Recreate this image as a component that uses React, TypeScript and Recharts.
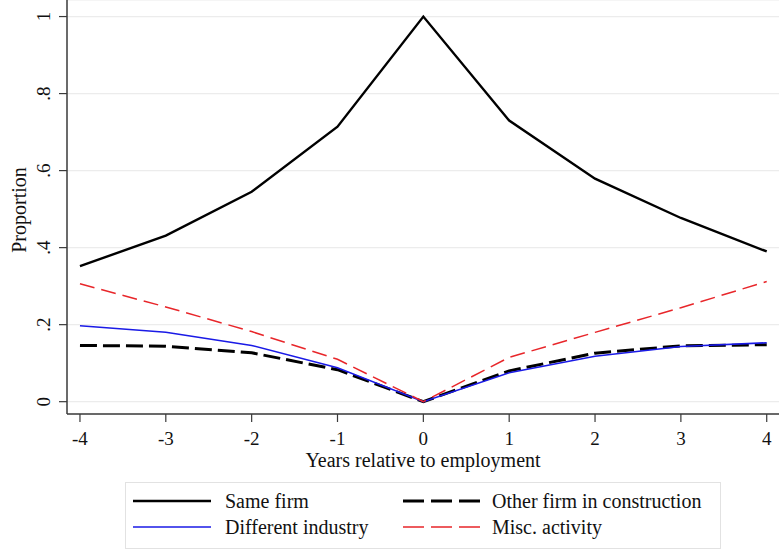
import { LineChart, Line, XAxis, YAxis, CartesianGrid, Legend, Label } from "recharts"

// years relative to employment
const years = [-4, -3, -2, -1, 0, 1, 2, 3, 4]
const sameFirm = [0.352, 0.431, 0.545, 0.714, 1.0, 0.73, 0.579, 0.477, 0.39]
const otherFirm = [0.146, 0.144, 0.127, 0.083, 0, 0.08, 0.126, 0.145, 0.148]
const diffIndustry = [0.197, 0.18, 0.146, 0.088, 0, 0.075, 0.118, 0.143, 0.153]
const miscActivity = [0.306, 0.246, 0.182, 0.11, 0, 0.115, 0.18, 0.244, 0.312]

const yTicks = [0, 0.2, 0.4, 0.6, 0.8, 1]
const yTickLabels = ["0", ".2", ".4", ".6", ".8", "1"]

const data = years.map((year, i) => ({
  year,
  sameFirm: sameFirm[i],
  otherFirm: otherFirm[i],
  diffIndustry: diffIndustry[i],
  miscActivity: miscActivity[i],
}))

const FONT = "'Liberation Serif', 'Times New Roman', serif"
const AXIS = "#3a3a3a"

const series = [
  { key: "sameFirm", name: "Same firm", color: "#000000", width: 2.4, dash: undefined, legendDash: undefined },
  { key: "otherFirm", name: "Other firm in construction", color: "#000000", width: 3, dash: "17 6", legendDash: "21 7" },
  { key: "diffIndustry", name: "Different industry", color: "#1a1ae6", width: 1.5, dash: undefined, legendDash: undefined },
  { key: "miscActivity", name: "Misc. activity", color: "#e8262a", width: 1.5, dash: "15 7", legendDash: "21 7" },
]

const XTick = (props: any) => {
  const { x, y, payload } = props
  return (
    <text x={x} y={y} dy={21} textAnchor="middle" fontFamily={FONT} fontSize={19} fill="#111">
      {payload.value}
    </text>
  )
}

const YTick = (props: any) => {
  const { x, y, payload } = props
  const idx = yTicks.indexOf(payload.value)
  const bx = x - 7
  return (
    <text x={bx} y={y} textAnchor="middle" transform={`rotate(-90 ${bx} ${y})`} fontFamily={FONT} fontSize={19} fill="#111">
      {idx >= 0 ? yTickLabels[idx] : payload.value}
    </text>
  )
}

const LegendBox = () => {
  const cols = [8, 278]
  const rows = [19, 45]
  return (
    <svg width={596} height={67} style={{ display: "block" }}>
      <rect x={0.5} y={0.5} width={595} height={66} fill="#fff" stroke="#e2e2e2" />
      {series.map((s, i) => {
        const cx = cols[i % 2]
        const cy = rows[Math.floor(i / 2)]
        return (
          <g key={s.key}>
            <line x1={cx} x2={cx + 78} y1={cy} y2={cy} stroke={s.color} strokeWidth={s.key === "otherFirm" ? 3 : s.width} strokeDasharray={s.legendDash} />
            <text x={cx + (i % 2 === 0 ? 92 : 89)} y={cy + 6.5} fontFamily={FONT} fontSize={20} fill="#111">
              {s.name}
            </text>
          </g>
        )
      })}
    </svg>
  )
}

export default function App() {
  return (
    <div style={{ position: "absolute", left: 0, top: 0, width: 779, height: 550, background: "#fff" }}>
      <LineChart width={779} height={550} data={data} margin={{ top: 0, right: 0, bottom: 0, left: 0 }}>
        <CartesianGrid horizontal={true} vertical={false} stroke="#ececec" strokeWidth={1.2} />
        <XAxis
          dataKey="year"
          type="number"
          domain={[-4.151, 4.143]}
          allowDataOverflow
          ticks={years}
          interval={0}
          height={136}
          tickSize={8}
          axisLine={{ stroke: AXIS, strokeWidth: 1.5 }}
          tickLine={{ stroke: AXIS, strokeWidth: 1.2 }}
          tick={<XTick />}
        >
          <Label value="Years relative to employment" position="insideBottom" offset={83} style={{ fontFamily: FONT, fontSize: 20, fill: "#111" }} />
        </XAxis>
        <YAxis
          type="number"
          domain={[-0.032, 1.043]}
          allowDataOverflow
          ticks={yTicks}
          interval={0}
          width={67}
          tickSize={8}
          axisLine={{ stroke: AXIS, strokeWidth: 1.5 }}
          tickLine={{ stroke: AXIS, strokeWidth: 1.2 }}
          tick={<YTick />}
        >
          <Label
            content={(p: any) => {
              const vb = p.viewBox || { x: 0, y: 0, height: 414 }
              const cx = 26
              const cy = vb.y + vb.height / 2 + 3
              return (
                <text x={cx} y={cy} textAnchor="middle" transform={`rotate(-90 ${cx} ${cy})`} fontFamily={FONT} fontSize={20} fill="#111">
                  Proportion
                </text>
              )
            }}
          />
        </YAxis>
        {series.map((s) => (
          <Line
            key={s.key}
            type="linear"
            dataKey={s.key}
            name={s.name}
            stroke={s.color}
            strokeWidth={s.width}
            strokeDasharray={s.dash}
            dot={false}
            activeDot={false}
            isAnimationActive={false}
          />
        ))}
        <Legend
          layout="horizontal"
          verticalAlign="middle"
          align="center"
          width={596}
          height={67}
          wrapperStyle={{ left: 125, top: 482, width: 596, height: 67 }}
          content={() => <LegendBox />}
        />
      </LineChart>
    </div>
  )
}
